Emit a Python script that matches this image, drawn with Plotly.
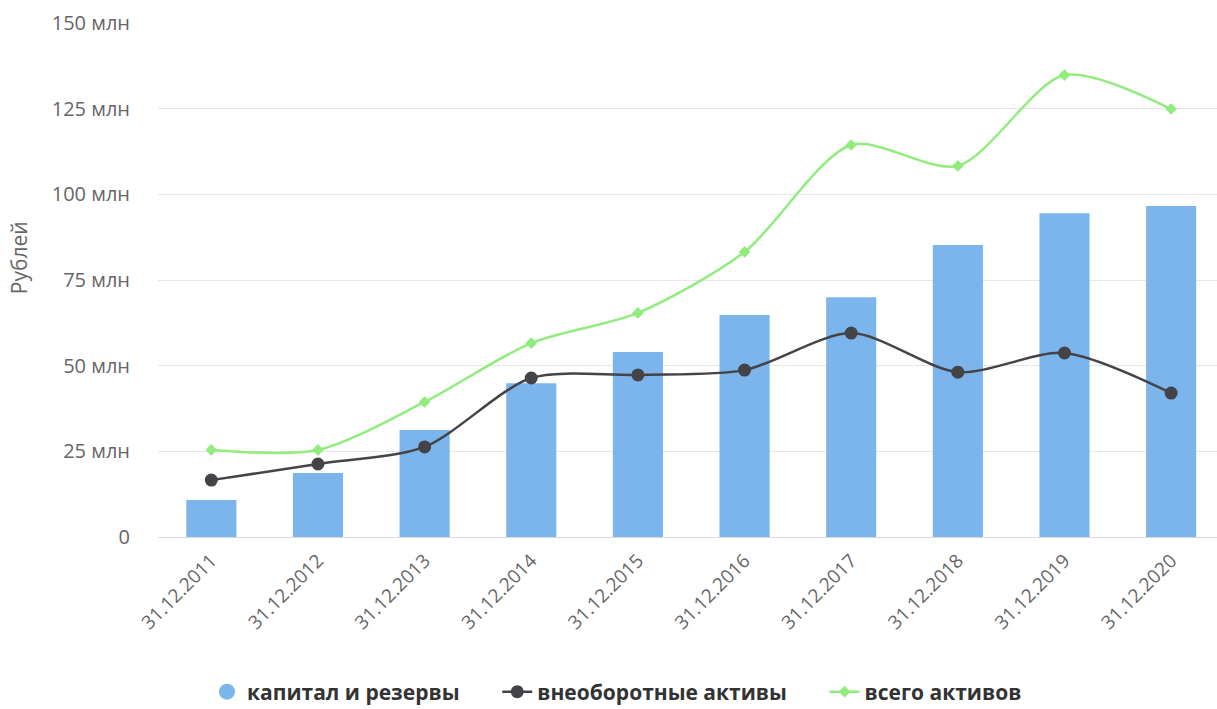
import plotly.graph_objects as go

# Reporting dates (categories)
dates = ["31.12.2011", "31.12.2012", "31.12.2013", "31.12.2014", "31.12.2015",
         "31.12.2016", "31.12.2017", "31.12.2018", "31.12.2019", "31.12.2020"]

# Values in millions of rubles
capital_reserves = [10.8, 18.7, 31.2, 44.9, 54.0, 64.8, 70.0, 85.2, 94.5, 96.6]
noncurrent_assets = [16.6, 21.3, 26.3, 46.4, 47.3, 48.7, 59.5, 48.1, 53.7, 42.0]
total_assets = [25.4, 25.4, 39.4, 56.6, 65.4, 83.2, 114.4, 108.3, 134.8, 124.9]

# Y axis ticks
y_tick_values = [0, 25, 50, 75, 100, 125, 150]
y_tick_labels = ["0", "25 млн", "50 млн", "75 млн", "100 млн", "125 млн", "150 млн"]

FONT = "Open Sans"
BAR_COLOR = "#7cb5ec"
DARK = "#434348"
GREEN = "#90ed7d"
GAP = "\u00a0" * 6  # extra spacing after each legend entry

fig = go.Figure()

# Bars; their legend entry is drawn as a round swatch by a separate key trace
fig.add_trace(go.Bar(
    x=dates, y=capital_reserves, name="капитал и резервы",
    marker=dict(color=BAR_COLOR, line=dict(width=0)),
    width=0.47, showlegend=False,
))

fig.add_trace(go.Scatter(
    x=[None], y=[None], name="капитал и резервы" + GAP, mode="markers",
    marker=dict(symbol="circle", size=17, color=BAR_COLOR),
    legendrank=1,
))

fig.add_trace(go.Scatter(
    x=dates, y=noncurrent_assets, name="внеоборотные активы" + GAP,
    mode="lines+markers", line=dict(color=DARK, width=2.5, shape="spline", smoothing=0.8),
    marker=dict(symbol="circle", size=13, color=DARK),
    legendrank=2,
))

fig.add_trace(go.Scatter(
    x=dates, y=total_assets, name="всего активов",
    mode="lines+markers", line=dict(color=GREEN, width=2.5, shape="spline", smoothing=0.8),
    marker=dict(symbol="diamond", size=9, color=GREEN),
    legendrank=3,
))

fig.update_layout(
    width=1217, height=709,
    margin=dict(l=158, r=0, t=23, b=172),
    paper_bgcolor="white", plot_bgcolor="white",
    font=dict(family=FONT, color="#666666", size=19),
    showlegend=True,
    legend=dict(
        orientation="h", xref="container", x=0.507, xanchor="center",
        yref="container", y=0.024, yanchor="middle",
        font=dict(family=FONT, size=21, color="#333333", weight="bold"),
        itemwidth=30,
    ),
    annotations=[dict(
        text="Рублей", textangle=-90, showarrow=False,
        xref="paper", yref="paper", x=-0.131, y=0.543,
        xanchor="center", yanchor="middle",
        font=dict(family=FONT, size=21, color="#666666"),
    )],
)

fig.update_xaxes(
    type="category", range=[-0.5, 9.43],
    tickangle=-45, tickfont=dict(size=19, color="#666666"),
    showgrid=False, showline=True, linecolor="#d8d8d8", linewidth=1,
    ticks="", ticklabelstandoff=4,
)

fig.update_yaxes(
    range=[0, 150], tickvals=y_tick_values, ticktext=y_tick_labels,
    showgrid=True, gridcolor="#e6e6e6", gridwidth=1,
    zeroline=False, showline=False, ticks="",
    ticklabelstandoff=27,
    tickfont=dict(size=20, color="#666666"),
)

fig.write_html("out.html")
